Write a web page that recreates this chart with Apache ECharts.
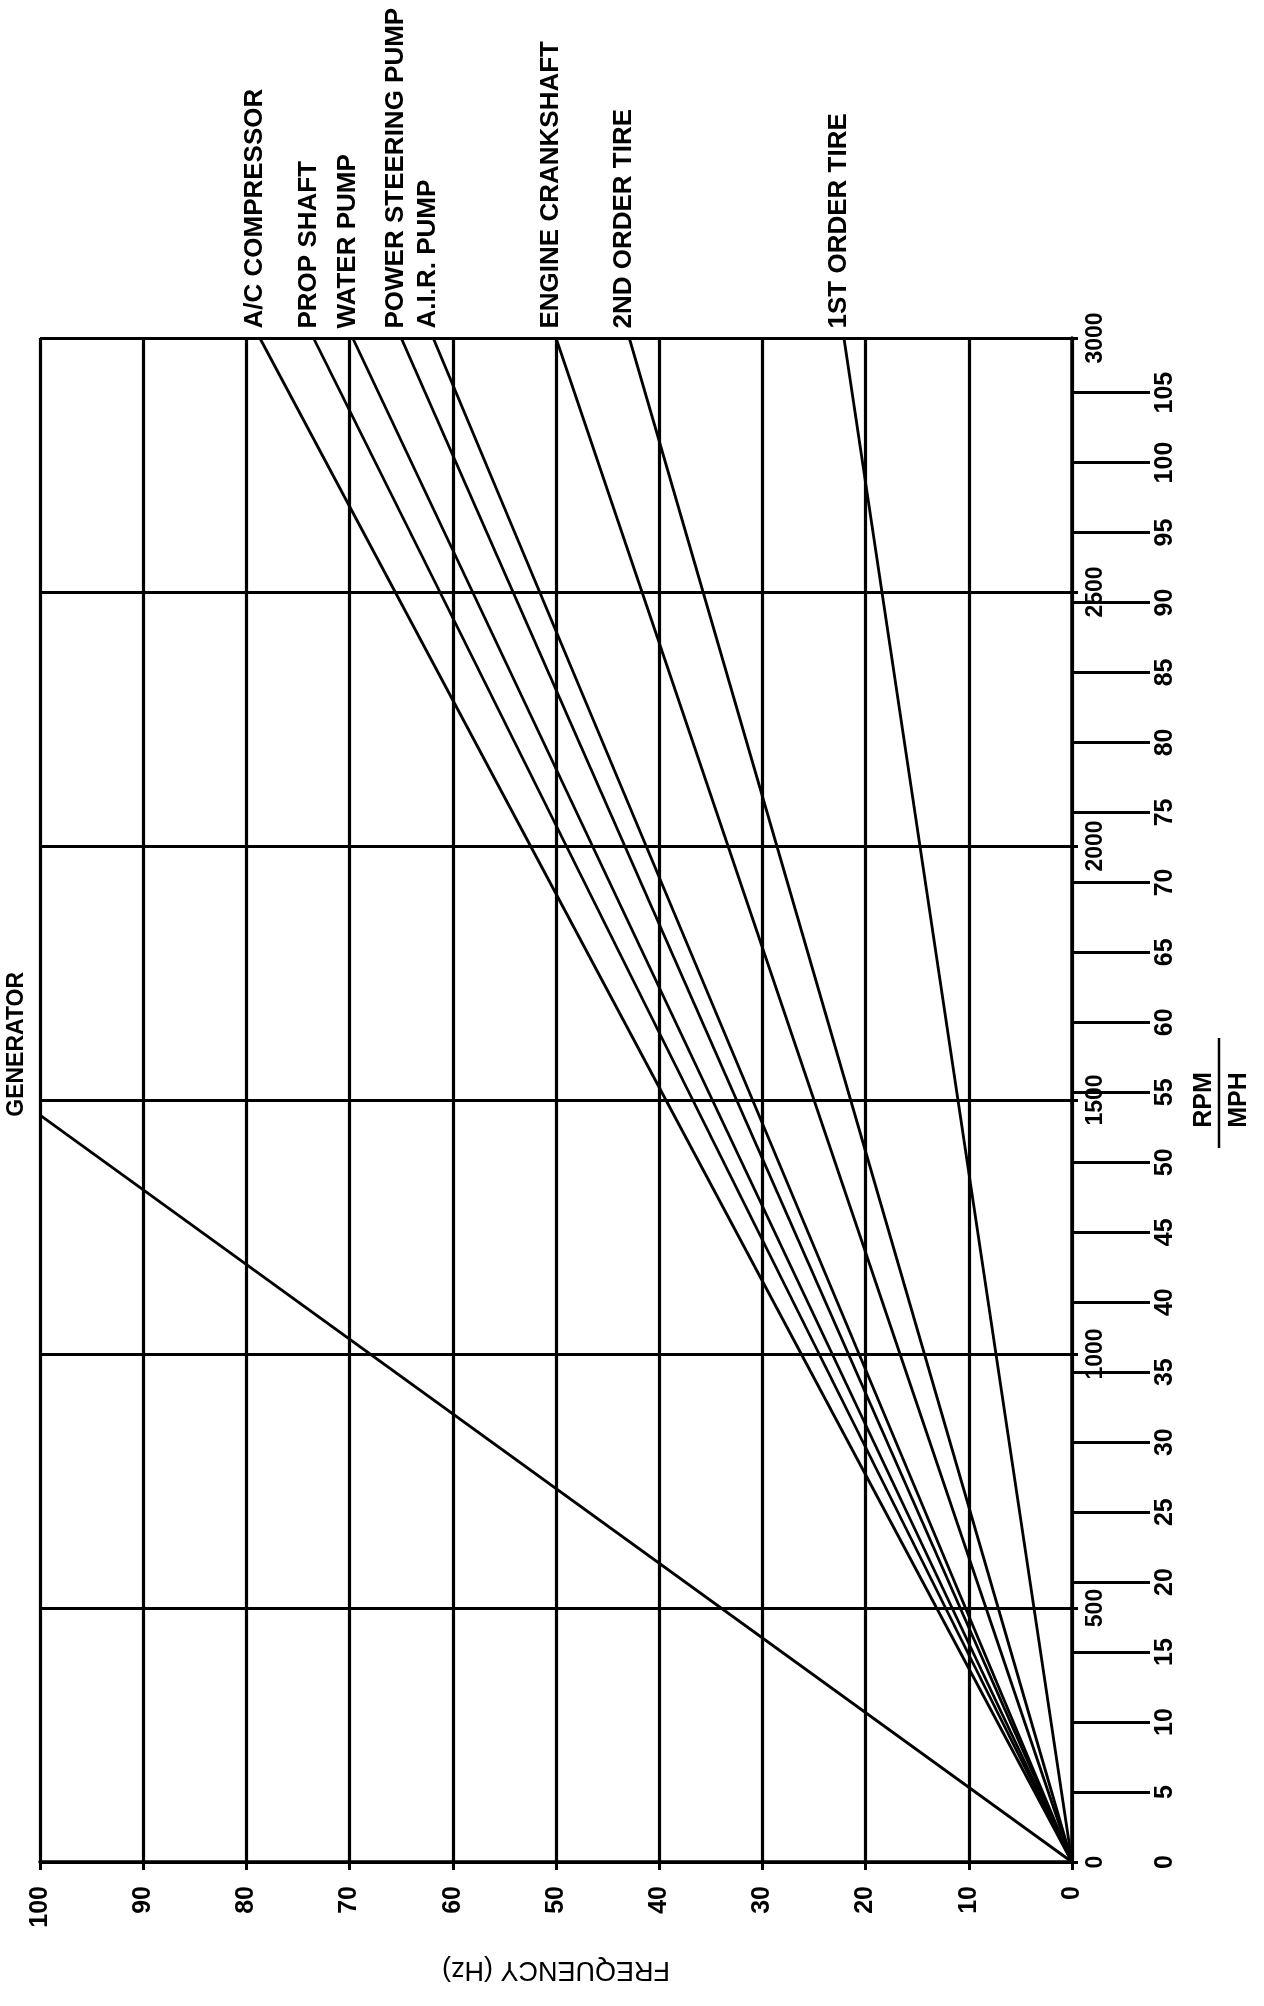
<!DOCTYPE html>
<html>
<head>
<meta charset="utf-8">
<script src="https://cdn.jsdelivr.net/npm/echarts@6/dist/echarts.min.js"></script>
<style>
	html, body { margin: 0; padding: 0; background: #fff; }
	#chart { width: 1264px; height: 2006px; }
</style>
</head>
<body>
<div id="chart"></div>
<script>
	// chart is drawn turned on its side: frequency runs right -> left, RPM/MPH bottom -> top
	var freqTicks = [0, 10, 20, 30, 40, 50, 60, 70, 80, 90, 100];
	var rpmTicks = [0, 500, 1000, 1500, 2000, 2500, 3000];
	var mphTicks = [0, 5, 10, 15, 20, 25, 30, 35, 40, 45, 50, 55, 60, 65, 70, 75, 80, 85, 90, 95, 100, 105];
	var mphTickMarks = mphTicks.slice(1); // the 0 mark sits past the rpm "0" label
	var mphAtMaxRpm = 108.9;

	// every line starts at 0 Hz / 0 RPM and ends at (endHz, endRpm)
	var sourceNames = ['GENERATOR', 'A/C COMPRESSOR', 'PROP SHAFT', 'WATER PUMP', 'POWER STEERING PUMP',
		'A.I.R. PUMP', 'ENGINE CRANKSHAFT', '2ND ORDER TIRE', '1ST ORDER TIRE'];
	var endHz = [100, 78.7, 73.5, 69.7, 65.0, 61.9, 50.0, 42.9, 22.1];
	var endRpm = [1470, 3000, 3000, 3000, 3000, 3000, 3000, 3000, 3000];

	var FONT = '"Liberation Sans", Arial, Helvetica, sans-serif';

	var series = sourceNames.map(function (name, i) {
		var isGen = i === 0;
		return {
			name: name,
			type: 'line',
			yAxisIndex: 0,
			symbol: 'circle',
			symbolSize: 1,
			itemStyle: { color: '#000' },
			lineStyle: { color: '#000', width: 2.8 },
			data: [
				[0, 0],
				{
					value: [endHz[i], endRpm[i]],
					label: {
						show: true,
						formatter: name,
						position: 'top',
						distance: isGen ? 0 : 9,
						// offset is turned with the text: [-y, x] on screen
						offset: isGen ? [-2, -23] : [0, -5],
						rotate: 90,
						align: 'left',
						verticalAlign: 'middle',
						color: '#000',
						fontFamily: FONT,
						fontWeight: 'bold',
						fontSize: isGen ? 23 : 26
					}
				}
			]
		};
	});

	function plain(v) {
		return String(v);
	}

	var chart = echarts.init(document.getElementById('chart'));
	chart.setOption({
		animation: false,
		backgroundColor: '#fff',
		grid: {
			left: 40,
			right: 192,
			top: 338,
			bottom: 144,
			outerBoundsMode: 'none'
		},
		xAxis: {
			type: 'value',
			min: 0,
			max: 100,
			interval: 10,
			inverse: true,
			position: 'bottom',
			axisLine: { show: true, lineStyle: { color: '#000', width: 3.5 } },
			axisTick: { show: true, length: 8, lineStyle: { color: '#000', width: 3 } },
			axisLabel: {
				customValues: freqTicks,
				formatter: plain,
				rotate: 90,
				margin: 24,
				color: '#000',
				fontFamily: FONT,
				fontWeight: 'bold',
				fontSize: 25
			},
			splitLine: { show: true, lineStyle: { color: '#000', width: 3.2 } },
			name: 'FREQUENCY (Hz)',
			nameLocation: 'middle',
			nameRotate: 180,
			nameGap: 94,
			nameTextStyle: { color: '#000', fontFamily: FONT, fontSize: 27 }
		},
		yAxis: [{
			type: 'value',
			min: 0,
			max: 3000,
			interval: 500,
			position: 'right',
			axisLine: { show: true, lineStyle: { color: '#000', width: 3.5 } },
			axisTick: { show: true, length: 6, lineStyle: { color: '#000', width: 3 } },
			axisLabel: {
				customValues: rpmTicks,
				formatter: plain,
				rotate: 90,
				margin: 12,
				color: '#000',
				fontFamily: FONT,
				fontWeight: 'bold',
				fontSize: 23
			},
			splitLine: { show: true, lineStyle: { color: '#000', width: 3.2 } },
			name: 'RPM',
			nameLocation: 'middle',
			nameRotate: 90,
			nameGap: 120,
			nameTextStyle: { color: '#000', fontFamily: FONT, fontWeight: 'bold', fontSize: 25 }
		}, {
			type: 'value',
			min: 0,
			max: mphAtMaxRpm,
			position: 'right',
			axisLine: { show: false },
			axisTick: { show: true, customValues: mphTickMarks, length: 78, lineStyle: { color: '#000', width: 3 } },
			axisLabel: {
				customValues: mphTicks,
				formatter: plain,
				rotate: 90,
				margin: 81,
				color: '#000',
				fontFamily: FONT,
				fontWeight: 'bold',
				fontSize: 25
			},
			splitLine: { show: false },
			name: 'MPH',
			nameLocation: 'middle',
			nameRotate: 90,
			nameGap: 155,
			nameTextStyle: { color: '#000', fontFamily: FONT, fontWeight: 'bold', fontSize: 25 }
		}],
		// fraction bar between RPM and MPH
		graphic: [{
			type: 'line',
			shape: { x1: 1219, y1: 1038, x2: 1219, y2: 1148 },
			style: { stroke: '#000', lineWidth: 2.5 }
		}],
		series: series
	});
</script>
</body>
</html>
